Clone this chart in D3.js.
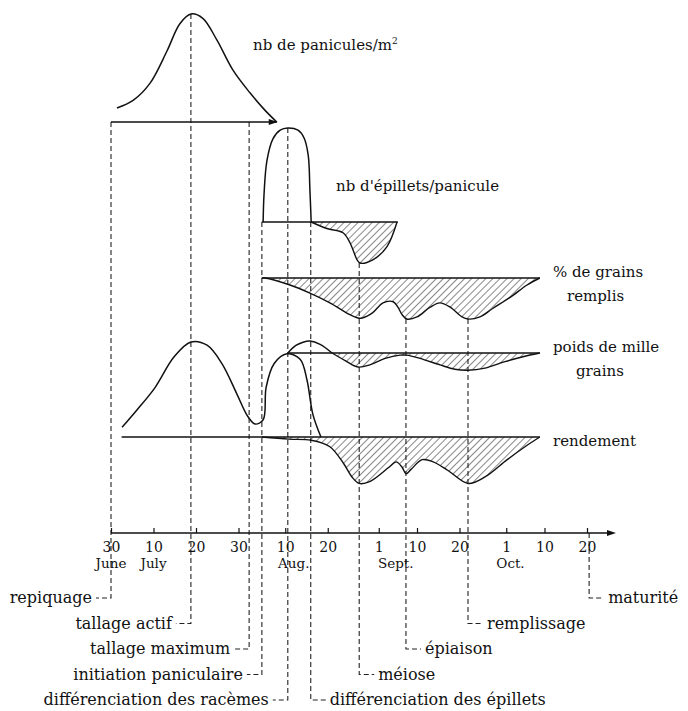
<!DOCTYPE html>
<html><head><meta charset="utf-8">
<script src="https://cdn.jsdelivr.net/npm/d3@7"></script>
<style>
body{margin:0;background:#fff}
svg text{font-family:"DejaVu Serif",serif;fill:#111}
</style></head><body>
<svg id="chart" width="688" height="711"></svg>
<script>
// Season calendar: days are counted from transplanting (30 June)
const seasonStart = "06-30";
const seasonEnd = "10-20";
const tickDates = ["06-30","07-10","07-20","07-30","08-10","08-20","09-01","09-10","09-20","10-01","10-10","10-20"];
const monthNames = ["June","July","Aug.","Sept.","Oct."];
const monthAnchors = ["06-30","07-10","08-12","09-05","10-02"];

// Number of panicles per m2 (relative index)
const panicleDays   = [1.4, 5.2, 9.2, 13.2, 16.2, 18.8, 21.6, 24.9, 28.7, 32.7, 36.2, 39];
const panicleValues = [13, 20, 36, 66, 91, 100, 96, 76, 48, 27, 11, 0];

// Spikelets per panicle: build-up and loss
const spikeletDays   = [35.8, 36, 36.7, 38.1, 39.8, 41.6, 44, 45.4, 46.4, 46.8, 47.1];
const spikeletValues = [0, 25, 57, 77, 85, 87, 85, 78, 62, 30, 0];
const spikeletLossDays   = [47.1, 50.8, 54.6, 56.2, 57.9, 58.6, 61.6, 64.9, 67.3];
const spikeletLossValues = [0, -6, -10, -19, -35, -38, -35, -23, 0];

// Percentage of filled grains (negative = losses)
const filledDays   = [35.5, 36.2, 42.1, 46.8, 51.5, 56.2, 58.1, 59.1, 61.6, 64, 66.4, 67.5, 68.5, 69.6, 72, 75.1, 77.4, 79.8, 82.6, 84, 86.8, 89.9, 93.9, 97.9, 100.9];
const filledValues = [0, 0, -6.5, -14, -23, -34, -37, -37, -32, -23, -22, -27, -34, -38, -36, -27, -23, -27, -36, -38, -36, -28, -18, -6.5, 0];

// Thousand-grain weight
const weightGainDays   = [41.6, 43.5, 45.2, 46.8, 49.2, 52];
const weightGainValues = [0, 7, 10, 11, 8, 0];
const weightLossDays   = [52, 55.1, 58.1, 60.9, 64.5, 68, 69.6, 72.7, 77.4, 80.9, 84, 88, 92.7, 97.4, 100.9];
const weightLossValues = [0, -7, -13, -11, -5, -2, -2, -5, -11, -15, -16, -14, -8, -3, 0];

// Yield: tillering / panicle build-up curve and losses
const yieldGainDays   = [2.6, 6.1, 10.4, 14.8, 18.8, 22.6, 26.1, 29.6, 32.2, 33.9, 35.8, 36.5, 38.4, 41.4, 44.5, 46.1, 47.5, 49.4];
const yieldGainValues = [9, 25, 46, 74, 88, 85, 68, 40, 19, 12, 16, 46, 68, 77, 72, 53, 21, 0];
const yieldLossDays   = [35.5, 41.9, 47.1, 51.5, 54.8, 56.7, 58.4, 61, 65.4, 67.1, 68.5, 69.4, 70.6, 73.2, 75.8, 79.3, 84, 88, 93.2, 97.4, 100.9];
const yieldLossValues = [0, -2, -3, -9, -25, -37, -43, -41, -28, -23, -28, -34, -30, -21, -23, -31, -43, -37, -21, -9, 0];

// Development stages
const stageNames = ["repiquage","tallage actif","tallage maximum","initiation paniculaire","différenciation des racèmes",
                    "différenciation des épillets","méiose","épiaison","remplissage","maturité"];
const stageDays  = [0, 18.8, 32.5, 35.5, 41.6, 47, 58.4, 69.4, 84, 112.5];

// ---------------------------------------------------------------
const svg = d3.select("#chart");
const toDate = s => new Date(1990, +s.slice(0,2) - 1, +s.slice(3));
const dayOf = s => d3.timeDay.count(toDate(seasonStart), toDate(s));

const x = d3.scaleLinear().domain([0, dayOf(seasonEnd)]).range([111, 587]);
const amp = d3.scaleLinear().domain([0, 100]).range([0, 108]);

// baselines of the stacked panels
const base = { panicle: 122, spikelet: 222, filled: 278, weight: 353, yield: 437, axis: 533 };
const Y = (panel, v) => base[panel] - amp(v);

const defs = svg.append("defs");
const hatch = defs.append("pattern").attr("id", "hatch")
  .attr("width", 5).attr("height", 5)
  .attr("patternUnits", "userSpaceOnUse")
  .attr("patternTransform", "rotate(45)");
hatch.append("line").attr("x1", 0).attr("y1", 0).attr("x2", 0).attr("y2", 5)
  .attr("stroke", "#111").attr("stroke-width", 1);

const zip = (ds, vs) => ds.map((d, i) => ({ d, v: vs[i] }));
const ink = "#111";
const smooth = d3.curveCatmullRom.alpha(0.5);

function curve(panel, ds, vs, width = 1.5) {
  const line = d3.line().x(p => x(p.d)).y(p => Y(panel, p.v)).curve(smooth);
  svg.append("path").attr("d", line(zip(ds, vs)))
    .attr("fill", "none").attr("stroke", ink).attr("stroke-width", width);
}
function hatched(panel, ds, vs) {
  const pts = zip(ds, vs);
  const area = d3.area().x(p => x(p.d)).y0(base[panel]).y1(p => Y(panel, p.v)).curve(smooth);
  svg.append("path").attr("d", area(pts)).attr("fill", "url(#hatch)");
  curve(panel, ds, vs, 1.4);
}
function baseline(panel, d0, d1, w = 1.4) {
  svg.append("line").attr("x1", x(d0)).attr("x2", x(d1))
    .attr("y1", base[panel]).attr("y2", base[panel])
    .attr("stroke", ink).attr("stroke-width", w);
}
function arrowHead(px, py) {
  svg.append("path").attr("d", `M${px},${py} l-9,-3 l0,6 z`).attr("fill", ink);
}

// ---- stage lines (dashed) with label leaders
const stageTop = [["panicle",0],["panicle",100],["panicle",0],["spikelet",0],["spikelet",87],
                  ["spikelet",0],["spikelet",-38],["filled",-38],["filled",-38],["axis",0]];
const stageRow = [0,1,2,3,4,4,3,2,1,0];
const rowY = r => 598 + r * 25.5;
const stageG = svg.append("g");
stageNames.forEach((name, i) => {
  const sx = x(stageDays[i]);
  const [panel, v] = stageTop[i];
  const top = Y(panel, v);
  const ry = rowY(stageRow[i]);
  const left = i < 5;
  const lead = 15;
  const ex = left ? sx - lead : sx + lead;
  stageG.append("path")
    .attr("d", `M${sx},${top} V${ry} H${ex}`)
    .attr("fill", "none").attr("stroke", "#222").attr("stroke-width", 1.1)
    .attr("stroke-dasharray", "5,3");
  stageG.append("text")
    .attr("x", left ? ex - 4 : ex + 4).attr("y", ry + 5)
    .attr("text-anchor", left ? "end" : "start")
    .attr("font-size", 16)
    .text(name);
});

// ---- panicles per m2
baseline("panicle", 0, 39);
arrowHead(x(39) + 1, base.panicle);
curve("panicle", panicleDays, panicleValues);

// ---- spikelets per panicle
baseline("spikelet", 35.5, 67.5);
curve("spikelet", spikeletDays, spikeletValues);
hatched("spikelet", spikeletLossDays, spikeletLossValues);

// ---- filled grains
baseline("filled", 35.5, 100.9);
hatched("filled", filledDays, filledValues);

// ---- 1000-grain weight
baseline("weight", 41.6, 100.9);
curve("weight", weightGainDays, weightGainValues);
hatched("weight", weightLossDays, weightLossValues);

// ---- yield
baseline("yield", 2.5, 100.9);
curve("yield", yieldGainDays, yieldGainValues);
hatched("yield", yieldLossDays, yieldLossValues);

// ---- time axis
const axis = d3.axisBottom(x)
  .tickValues(tickDates.map(dayOf))
  .tickSizeInner(-5).tickSizeOuter(0).tickPadding(9)
  .tickFormat(d => d3.timeDay.offset(toDate(seasonStart), d).getDate());
const ax = svg.append("g").attr("transform", `translate(0,${base.axis})`).call(axis);
ax.select(".domain").remove();
ax.selectAll(".tick line").attr("stroke", ink).attr("stroke-width", 1.2);
ax.selectAll(".tick text").attr("font-size", 14).attr("fill", ink)
  .attr("font-family", "DejaVu Serif, serif");
svg.append("line").attr("x1", x(0)).attr("x2", 612).attr("y1", base.axis).attr("y2", base.axis)
  .attr("stroke", ink).attr("stroke-width", 1.6);
arrowHead(616, base.axis);

svg.append("g").selectAll("text").data(monthNames).join("text")
  .attr("x", (m, i) => x(dayOf(monthAnchors[i])))
  .attr("y", base.axis + 35)
  .attr("text-anchor", "middle").attr("font-size", 13.5)
  .text(m => m);

// ---- panel titles
const titles = [
  { t: "nb de panicules/m", sup: "2", x: 253, y: 50 },
  { t: "nb d'épillets/panicule", x: 336, y: 191 },
  { t: "% de grains", x: 553, y: 277 },
  { t: "remplis", x: 567, y: 301 },
  { t: "poids de mille", x: 553, y: 352 },
  { t: "grains", x: 576, y: 376 },
  { t: "rendement", x: 553, y: 446 }
];
titles.forEach(d => {
  const t = svg.append("text").attr("x", d.x).attr("y", d.y).attr("font-size", 15).text(d.t);
  if (d.sup) t.append("tspan").attr("dy", -6).attr("font-size", 9).text(d.sup);
});
</script>
</body></html>
